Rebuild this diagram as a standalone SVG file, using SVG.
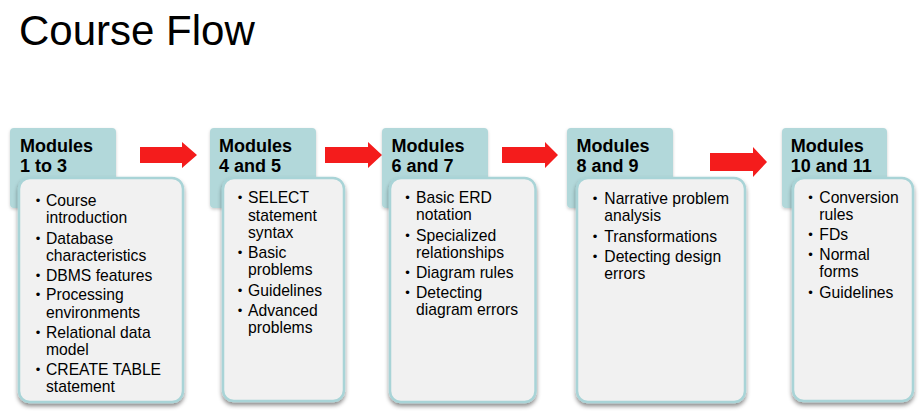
<svg xmlns="http://www.w3.org/2000/svg" width="923" height="417" viewBox="0 0 923 417">
<style>
.title{font-family:"Liberation Sans",Arial,sans-serif;font-size:42px;fill:#000}
.hd{font-family:"Liberation Sans",Arial,sans-serif;font-size:18px;font-weight:bold;fill:#000}
.tx{font-family:"Liberation Sans",Arial,sans-serif;font-size:15.7px;fill:#000}
.bl{font-family:"Liberation Sans",Arial,sans-serif;font-size:13px;fill:#000;text-anchor:middle}
.tab{fill:#b2d8da;filter:url(#sh2)}
.body{fill:#f1f1f1;stroke:#a9d4d7;stroke-width:2.5;filter:url(#sh)}
.arr{fill:#f41c1c}
</style>
<defs>
<filter id="sh" x="-20%" y="-20%" width="140%" height="140%">
<feDropShadow dx="0" dy="3" stdDeviation="2" flood-color="#000" flood-opacity="0.45"/>
</filter>
<filter id="sh2" x="-20%" y="-20%" width="140%" height="140%">
<feDropShadow dx="0" dy="1.5" stdDeviation="1.5" flood-color="#000" flood-opacity="0.2"/>
</filter>
</defs>
<rect width="923" height="417" fill="#fff"/>
<text class="title" x="19" y="45">Course Flow</text>

<g id="connectors">
<path id="a1" class="arr" d="M140,147 H182 V142 L197,155 L182,168 V163 H140 Z"/>
<path id="a2" class="arr" d="M325,147 H368 V142 L382,155 L368,168 V163 H325 Z"/>
<path id="a3" class="arr" d="M502,147 H545 V142 L558,155 L545,168 V163 H502 Z"/>
<path id="a4" class="arr" d="M710,153 H753 V147 L767,162 L753,177 V171 H710 Z"/>
</g>

<g id="m1">
<rect class="tab" x="10" y="128" width="106" height="80" rx="4"/>
<text class="hd" x="20" y="152">Modules</text>
<text class="hd" x="20" y="172">1 to 3</text>
<rect class="body" x="19" y="178" width="164" height="224" rx="11"/>
<text class="bl" x="38" y="205">•</text><text class="tx" x="46" y="206">Course</text>
<text class="tx" x="46" y="223.3">introduction</text>
<text class="bl" x="38" y="242.5">•</text><text class="tx" x="46" y="243.5">Database</text>
<text class="tx" x="46" y="260.5">characteristics</text>
<text class="bl" x="38" y="279.7">•</text><text class="tx" x="46" y="280.7">DBMS features</text>
<text class="bl" x="38" y="299.3">•</text><text class="tx" x="46" y="300.3">Processing</text>
<text class="tx" x="46" y="317.5">environments</text>
<text class="bl" x="38" y="336.5">•</text><text class="tx" x="46" y="337.5">Relational data</text>
<text class="tx" x="46" y="355">model</text>
<text class="bl" x="38" y="374">•</text><text class="tx" x="46" y="375">CREATE TABLE</text>
<text class="tx" x="46" y="392">statement</text>
</g>

<g id="m2">
<rect class="tab" x="210" y="128" width="106" height="80" rx="4"/>
<text class="hd" x="219" y="152">Modules</text>
<text class="hd" x="219" y="172">4 and 5</text>
<rect class="body" x="223" y="178" width="121" height="223" rx="11"/>
<text class="bl" x="240" y="202">•</text><text class="tx" x="248" y="203">SELECT</text>
<text class="tx" x="248" y="220.5">statement</text>
<text class="tx" x="248" y="237.5">syntax</text>
<text class="bl" x="240" y="257">•</text><text class="tx" x="248" y="258">Basic</text>
<text class="tx" x="248" y="275.3">problems</text>
<text class="bl" x="240" y="295">•</text><text class="tx" x="248" y="296">Guidelines</text>
<text class="bl" x="240" y="315">•</text><text class="tx" x="248" y="316">Advanced</text>
<text class="tx" x="248" y="333.3">problems</text>
</g>

<g id="m3">
<rect class="tab" x="382" y="128" width="106" height="80" rx="4"/>
<text class="hd" x="391.5" y="152">Modules</text>
<text class="hd" x="391.5" y="172">6 and 7</text>
<rect class="body" x="390" y="178" width="145.5" height="224" rx="11"/>
<text class="bl" x="407.5" y="202">•</text><text class="tx" x="416" y="203">Basic ERD</text>
<text class="tx" x="416" y="220.3">notation</text>
<text class="bl" x="407.5" y="239.8">•</text><text class="tx" x="416" y="240.8">Specialized</text>
<text class="tx" x="416" y="257.5">relationships</text>
<text class="bl" x="407.5" y="277">•</text><text class="tx" x="416" y="278">Diagram rules</text>
<text class="bl" x="407.5" y="297">•</text><text class="tx" x="416" y="298">Detecting</text>
<text class="tx" x="416" y="314.8">diagram errors</text>
</g>

<g id="m4">
<rect class="tab" x="567" y="128" width="106" height="80" rx="4"/>
<text class="hd" x="576.5" y="152">Modules</text>
<text class="hd" x="576.5" y="172">8 and 9</text>
<rect class="body" x="577" y="178" width="168" height="224" rx="11"/>
<text class="bl" x="595" y="203">•</text><text class="tx" x="604.3" y="204">Narrative problem</text>
<text class="tx" x="604.3" y="221">analysis</text>
<text class="bl" x="595" y="241">•</text><text class="tx" x="604.3" y="242">Transformations</text>
<text class="bl" x="595" y="261">•</text><text class="tx" x="604.3" y="262">Detecting design</text>
<text class="tx" x="604.3" y="278.7">errors</text>
</g>

<g id="m5">
<rect class="tab" x="782" y="128" width="105" height="80" rx="4"/>
<text class="hd" x="790.7" y="152">Modules</text>
<text class="hd" x="790.7" y="172">10 and 11</text>
<rect class="body" x="793" y="178" width="120" height="223" rx="11"/>
<text class="bl" x="810.5" y="202">•</text><text class="tx" x="819.3" y="203">Conversion</text>
<text class="tx" x="819.3" y="219.7">rules</text>
<text class="bl" x="810.5" y="239">•</text><text class="tx" x="819.3" y="240">FDs</text>
<text class="bl" x="810.5" y="259">•</text><text class="tx" x="819.3" y="260">Normal</text>
<text class="tx" x="819.3" y="277">forms</text>
<text class="bl" x="810.5" y="296.5">•</text><text class="tx" x="819.3" y="297.5">Guidelines</text>
</g>
</svg>
